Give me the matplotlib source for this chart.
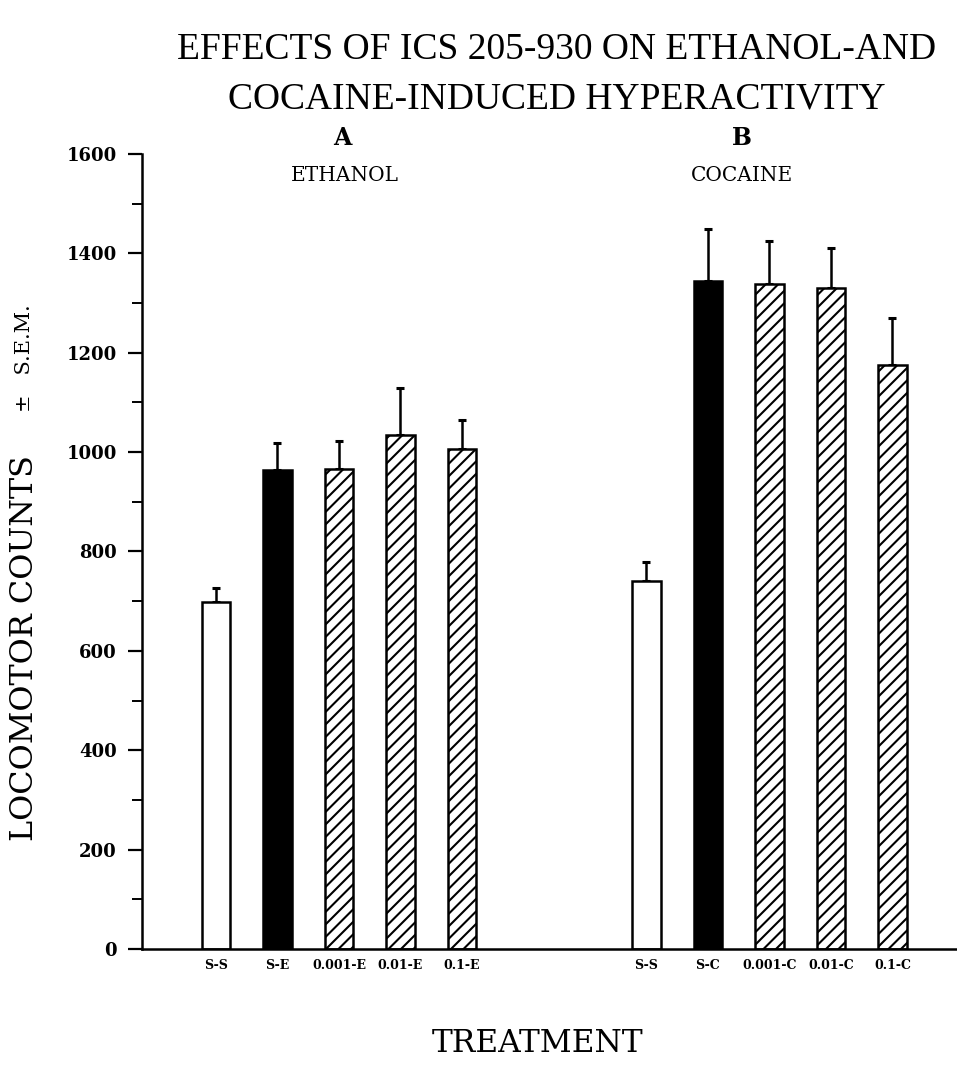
import numpy as np
import matplotlib.pyplot as plt
from matplotlib.ticker import MultipleLocator

# --- data ---
ethanol_labels = ['S-S', 'S-E', '0.001-E', '0.01-E', '0.1-E']
ethanol_means = [699, 963, 966, 1034, 1006]
ethanol_sem = [28, 56, 56, 96, 59]

cocaine_labels = ['S-S', 'S-C', '0.001-C', '0.01-C', '0.1-C']
cocaine_means = [741, 1344, 1338, 1330, 1176]
cocaine_sem = [37, 105, 87, 81, 93]

# bar style per treatment: saline, drug alone, ICS doses
bar_kinds = ['open', 'solid', 'hatch', 'hatch', 'hatch']

# render at 150 dpi so the hatch spacing comes out like the original;
# sizes below are written as at 100 dpi and scaled by k
DPI = 150
k = 100 / DPI
serif = 'DejaVu Serif'
plt.rcParams['hatch.linewidth'] = 1.5 * k

fig = plt.figure(figsize=(957 / DPI, 1082 / DPI), dpi=DPI)
ax = fig.add_axes([0.1484, 0.1229, 0.8516, 0.7348])

x_a = np.arange(len(ethanol_means))
x_b = np.arange(len(cocaine_means)) + 7
width = 0.46


def draw_group(xs, means, sems):
    for x, m, s, kind in zip(xs, means, sems, bar_kinds):
        face = 'black' if kind == 'solid' else 'white'
        hatch = '////' if kind == 'hatch' else None
        ax.bar(x, m, width=width, color=face, edgecolor='black',
               linewidth=1.8 * k, hatch=hatch, zorder=2)
        ax.errorbar(x, m, yerr=[[0], [s]], fmt='none', ecolor='black',
                    elinewidth=1.8 * k, capsize=3 * k, capthick=2.2 * k,
                    zorder=1)


draw_group(x_a, ethanol_means, ethanol_sem)
draw_group(x_b, cocaine_means, cocaine_sem)

ax.set_xlim(-1.203, 12.05)
ax.set_ylim(0, 1600)
ax.yaxis.set_major_locator(MultipleLocator(200))
ax.yaxis.set_minor_locator(MultipleLocator(100))
ax.tick_params(axis='y', which='major', direction='out', length=10 * k,
               width=1.6 * k, labelsize=13 * k, pad=8 * k)
ax.tick_params(axis='y', which='minor', direction='out', length=7 * k,
               width=1.4 * k)
for lbl in ax.get_yticklabels():
    lbl.set_family(serif)
    lbl.set_fontweight('bold')

ax.set_xticks(list(x_a) + list(x_b))
ax.set_xticklabels(ethanol_labels + cocaine_labels, family=serif,
                   fontsize=9 * k, fontweight='bold')
ax.tick_params(axis='x', length=0, pad=7 * k)

for side in ['top', 'right']:
    ax.spines[side].set_visible(False)
ax.spines['left'].set_linewidth(1.8 * k)
ax.spines['bottom'].set_linewidth(1.8 * k)

# panel headings
ax.text(2.05, 1632, 'A', family=serif, fontsize=17 * k, fontweight='bold',
        ha='center', va='center')
ax.text(2.1, 1556, 'ETHANOL', family=serif, fontsize=14.5 * k,
        ha='center', va='center')
ax.text(8.55, 1632, 'B', family=serif, fontsize=17 * k, fontweight='bold',
        ha='center', va='center')
ax.text(8.55, 1556, 'COCAINE', family=serif, fontsize=14.5 * k,
        ha='center', va='center')

# titles and axis labels
fig.text(0.582, 0.954, 'EFFECTS OF ICS 205-930 ON ETHANOL-AND',
         family='Liberation Serif', fontsize=27 * k, ha='center', va='center')
fig.text(0.582, 0.908, 'COCAINE-INDUCED HYPERACTIVITY',
         family='Liberation Serif', fontsize=27 * k, ha='center', va='center')
fig.text(0.026, 0.401, 'LOCOMOTOR COUNTS', family=serif, fontsize=23 * k,
         rotation=90, ha='center', va='center')
fig.text(0.026, 0.669, '\u00b1   S.E.M.', family=serif, fontsize=15 * k,
         rotation=90, ha='center', va='center')
fig.text(0.562, 0.036, 'TREATMENT', family=serif,
         fontsize=22.5 * k, ha='center', va='center')

fig.savefig('out.png', dpi=DPI, facecolor='white')
